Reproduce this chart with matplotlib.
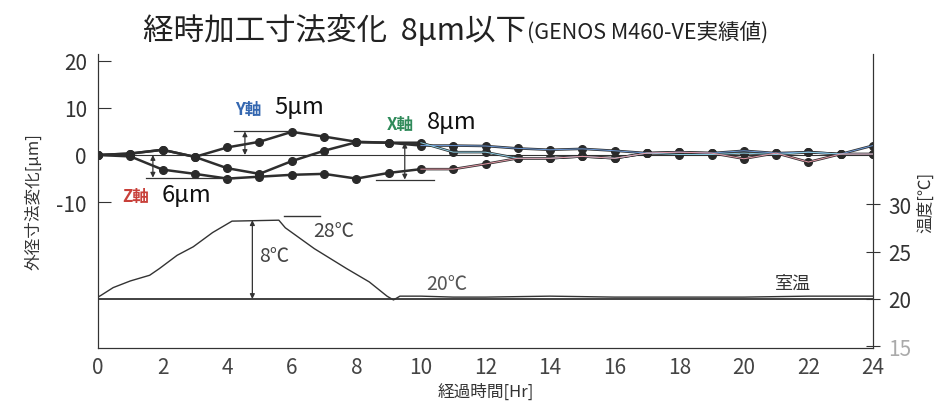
import matplotlib
matplotlib.use("Agg")
import matplotlib.pyplot as plt

plt.rcParams['font.family'] = ['Noto Sans CJK JP', 'DejaVu Sans']

# elapsed hours and displacement readings [um]
hours = list(range(25))
y_axis = [0, 0.3, 1.1, -0.4, 1.6, 2.8, 4.9, 3.9, 2.8, 2.6, 2.0, 2.0, 1.9, 1.4,
          1.1, 1.3, 0.9, 0.4, 0.6, 0.4, 0.9, 0.4, 0.6, 0.2, 2.0]
x_axis = [0, 0.3, 1.1, -0.4, -2.8, -4.0, -1.3, 0.9, 2.7, 2.6, 2.6, 0.6, 0.6, -0.7,
          -0.7, -0.3, -0.7, 0.4, 0.1, 0.1, 0.4, 0.1, 0.6, 0.2, 0.2]
z_axis = [0, -0.3, -3.1, -4.0, -5.0, -4.6, -4.2, -4.0, -5.0, -3.8, -3.0, -3.0, -1.9,
          -0.7, -0.7, -0.3, -0.7, 0.4, 0.6, 0.4, -0.8, 0.4, -1.5, 0.2, 0.2]

# temperature trace
temp_hours = [0, 0.1, 0.47, 1.0, 1.6, 1.9, 2.45, 2.95, 3.55, 4.15, 5.6, 5.8, 6.7,
              7.7, 8.4, 8.95, 9.15, 9.35, 10, 11, 12, 14, 16, 18, 20, 22, 24]
temp_vals = [20.2, 20.4, 21.2, 21.9, 22.5, 23.2, 24.6, 25.5, 27.0, 28.2, 28.3, 27.5,
             25.3, 23.2, 21.8, 20.3, 19.9, 20.3, 20.3, 20.2, 20.2, 20.3, 20.2, 20.2,
             20.2, 20.3, 20.3]

x_ticks = [0, 2, 4, 6, 8, 10, 12, 14, 16, 18, 20, 22, 24]
left_ticks = [20, 10, 0, -10]
right_ticks = [15, 20, 25, 30]

ink = '#333333'
W, H = 949, 406
fig = plt.figure(figsize=(W / 100, H / 100), dpi=100)
ax = fig.add_axes([98 / W, (H - 349) / H, 775 / W, 294 / H])
ax2 = ax.twinx()

# temperature side
ax2.plot([0, 24], [20, 20], color=ink, lw=1.3)
ax2.plot(temp_hours, temp_vals, color=ink, lw=1.0)
ax2.set_ylim(14.84, 45.8)
ax2.set_yticks(right_ticks)
ax2.set_yticklabels([str(t) for t in right_ticks])
ax2.tick_params(axis='y', direction='inout', length=10, width=0.8, labelsize=15,
                labelcolor=ink, color=ink, pad=6)
ax2.get_yticklabels()[0].set_color('#aaaaaa')
ax2.set_ylabel('温度[℃]', fontsize=12, color=ink, rotation=90, labelpad=4)

# temperature annotations
ax2.annotate('', xy=(4.78, 28.3), xytext=(4.78, 20.0),
             arrowprops=dict(arrowstyle='<|-|>', color=ink, lw=0.9,
                             mutation_scale=7, shrinkA=0, shrinkB=0))
ax2.plot([5.76, 6.87], [28.7, 28.7], color=ink, lw=1.0)
ax2.text(6.65, 28.3, '28℃', fontsize=14, color='#444444', va='top')
ax2.text(5.0, 24.6, '8℃', fontsize=14, color='#444444', va='center')
ax2.text(10.15, 21.6, '20℃', fontsize=14, color='#555555', va='center')
ax2.text(20.95, 21.7, '室温', fontsize=13, color=ink, va='center')

# displacement side
ax.plot([0, 24], [0, 0], color=ink, lw=0.8)
for series in (z_axis, x_axis, y_axis):
    ax.plot(hours, series, color='#2e2e2e', lw=1.8, marker='o', markersize=5.5,
            markerfacecolor='#2a2a2a', markeredgecolor='#2a2a2a')
for series, c in ((y_axis, '#6d9ad8'), (x_axis, '#8fd0e6'), (z_axis, '#e89aa8')):
    ax.plot(hours[10:], series[10:], color=c, lw=0.7, zorder=3)

ax.set_xlim(0, 24)
ax.set_ylim(-40.9, 21.4)
ax.set_xticks(x_ticks)
ax.set_xticklabels([str(t) for t in x_ticks])
ax.set_yticks(left_ticks)
ax.set_yticklabels([str(t) for t in left_ticks])
ax.tick_params(axis='x', length=0, labelsize=15, labelcolor='#444444', pad=6)
ax.tick_params(axis='y', direction='in', length=9, width=0.8, labelsize=15,
               labelcolor=ink, color=ink, pad=8)
for side in ('left', 'right', 'bottom'):
    ax.spines[side].set_color(ink)
    ax2.spines[side].set_color(ink)
ax.spines['top'].set_visible(False)
ax2.spines['top'].set_visible(False)
ax.set_xlabel('経過時間[Hr]', fontsize=12, color=ink, labelpad=3)
ax.set_ylabel('外径寸法変化[μm]', fontsize=12, color=ink, labelpad=10)

# range markers
ax.plot([4.2, 5.9], [5.0, 5.0], color=ink, lw=0.9)
ax.annotate('', xy=(4.55, 5.0), xytext=(4.55, 0),
            arrowprops=dict(arrowstyle='<|-|>', color=ink, lw=0.9,
                            mutation_scale=7, shrinkA=0, shrinkB=0))
ax.plot([1.5, 4.2], [-4.8, -4.8], color=ink, lw=0.9)
ax.annotate('', xy=(1.7, 0), xytext=(1.7, -4.8),
            arrowprops=dict(arrowstyle='<|-|>', color=ink, lw=0.9,
                            mutation_scale=7, shrinkA=0, shrinkB=0))
ax.plot([8.6, 10.4], [-5.2, -5.2], color=ink, lw=0.9)
ax.annotate('', xy=(9.5, 2.6), xytext=(9.5, -5.2),
            arrowprops=dict(arrowstyle='<|-|>', color=ink, lw=0.9,
                            mutation_scale=7, shrinkA=0, shrinkB=0))

# axis labels for each series
ax.text(4.25, 9.8, 'Y軸', fontsize=12, fontweight='bold', color='#3467b0', va='center')
ax.text(5.45, 10.3, '5μm', fontsize=17, color='#111111', va='center')
ax.text(8.95, 6.5, 'X軸', fontsize=12, fontweight='bold', color='#2f8a5a', va='center')
ax.text(10.2, 7.0, '8μm', fontsize=17, color='#111111', va='center')
ax.text(0.75, -8.7, 'Z軸', fontsize=12, fontweight='bold', color='#c8403a', va='center')
ax.text(1.98, -8.3, '6μm', fontsize=17, color='#111111', va='center')

# title, second part placed right after the first
t1 = fig.text(143 / W, 1 - 31 / H, '経時加工寸法変化  8μm以下', fontsize=22,
              color='#222222', va='center', ha='left')
fig.canvas.draw()
x_end = t1.get_window_extent().x1 / W
fig.text(x_end + 1 / W, 1 - 33 / H, '(GENOS M460-VE実績値)', fontsize=15.5,
         color='#222222', va='center', ha='left')

fig.savefig('out.png', dpi=100)
